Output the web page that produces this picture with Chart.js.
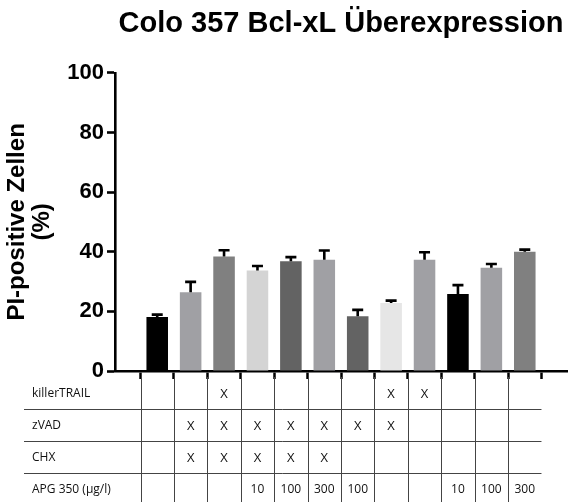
<!DOCTYPE html>
<html>
<head>
<meta charset="utf-8">
<script src="https://cdn.jsdelivr.net/npm/chart.js@4/dist/chart.umd.min.js"></script>
<style>
html,body{margin:0;padding:0;background:#fff;}
canvas{display:block;}
</style>
</head>
<body>
<canvas id="c" width="569" height="502"></canvas>
<script>
const chartTitle = 'Colo 357 Bcl-xL Überexpression';
const yTitle = ['PI-positive Zellen', '(%)'];
const yTicks = [0, 20, 40, 60, 80, 100];
const means = [18.1, 26.4, 38.4, 33.7, 36.8, 37.3, 18.4, 22.8, 37.3, 25.8, 34.6, 40.0];
const sems  = [0.8, 3.5, 2.1, 1.5, 1.4, 3.1, 2.1, 0.8, 2.5, 3.0, 1.3, 0.7];
const barColors = ['#000000','#a0a0a4','#808080','#d4d4d4','#636363','#a0a0a4','#636363','#e6e6e6','#a0a0a4','#000000','#a0a0a4','#808080'];
const rowLabels = ['killerTRAIL', 'zVAD', 'CHX', 'APG 350 (µg/l)'];
const killerTRAIL = ['', '', 'X', '', '', '', '', 'X', 'X', '', '', ''];
const zVAD        = ['', 'X', 'X', 'X', 'X', 'X', 'X', 'X', '', '', '', ''];
const CHX         = ['', 'X', 'X', 'X', 'X', 'X', '', '', '', '', '', ''];
const APG         = ['', '', '', '10', '100', '300', '100', '', '', '10', '100', '300'];
const tableRows = [killerTRAIL, zVAD, CHX, APG];

const points = means.map((v, i) => ({x: i, y: v}));

const errorBars = {
  id: 'errorBars',
  afterDatasetsDraw(chart) {
    const xs = chart.scales.x, ys = chart.scales.y, ctx = chart.ctx;
    ctx.save();
    ctx.strokeStyle = '#000';
    ctx.lineWidth = 2.6;
    ctx.lineCap = 'butt';
    means.forEach((m, i) => {
      const x = xs.getPixelForValue(i);
      const y0 = ys.getPixelForValue(m);
      const y1 = ys.getPixelForValue(m + sems[i]);
      ctx.beginPath();
      ctx.moveTo(x, y0);
      ctx.lineTo(x, y1);
      ctx.moveTo(x - 5.5, y1);
      ctx.lineTo(x + 5.5, y1);
      ctx.stroke();
    });
    ctx.restore();
  }
};

const table = {
  id: 'table',
  afterDraw(chart) {
    const xs = chart.scales.x, ctx = chart.ctx;
    const top = chart.chartArea.bottom + 6;
    const rowH = 32;
    ctx.save();
    ctx.strokeStyle = '#444';
    ctx.lineWidth = 1;
    for (let i = 0; i < means.length; i++) {
      const x = Math.round(xs.getPixelForValue(i - 0.5)) + 0.5;
      ctx.beginPath();
      ctx.moveTo(x, top);
      ctx.lineTo(x, 502);
      ctx.stroke();
    }
    const lineRight = xs.getPixelForValue(11.5);
    for (let r = 1; r < rowLabels.length; r++) {
      const y = Math.round(top + rowH * r) + 0.5;
      ctx.beginPath();
      ctx.moveTo(24, y);
      ctx.lineTo(lineRight, y);
      ctx.stroke();
    }
    ctx.fillStyle = '#111';
    ctx.textBaseline = 'middle';
    const labFont = '12px "Open Sans"';
    rowLabels.forEach((lab, r) => {
      const cy = top + rowH * r + rowH / 2 + 1;
      ctx.font = labFont;
      ctx.textAlign = 'left';
      ctx.fillText(lab, 32, cy);
      ctx.textAlign = 'center';
      tableRows[r].forEach((t, i) => {
        if (t) {
          ctx.font = t === 'X' ? '13px "Open Sans"' : labFont;
          ctx.fillText(t, xs.getPixelForValue(i), cy);
        }
      });
    });
    ctx.restore();
  }
};

new Chart(document.getElementById('c'), {
  type: 'bar',
  data: {
    datasets: [{
      data: points,
      backgroundColor: barColors,
      borderWidth: 0,
      barPercentage: 0.645,
      categoryPercentage: 1.0
    }]
  },
  options: {
    responsive: false,
    animation: false,
    layout: {padding: {left: 0, right: 2, top: 0, bottom: 0}},
    plugins: {
      legend: {display: false},
      tooltip: {enabled: false},
      title: {
        display: true,
        fullSize: false,
        text: chartTitle,
        color: '#000',
        font: {family: '"Liberation Sans", Arial, sans-serif', size: 29, weight: 'bold'},
        padding: {top: 7, bottom: 31},
        align: 'center'
      }
    },
    scales: {
      x: {
        type: 'linear',
        min: -0.7,
        max: 11.7,
        afterBuildTicks(scale) { scale.ticks = means.map((_, i) => ({value: i})); },
        afterFit(scale) { scale.height = 131; },
        ticks: {callback: () => ''},
        grid: {drawOnChartArea: false, tickLength: 8, tickWidth: 2.5, tickColor: '#000'},
        border: {color: '#000', width: 2.6}
      },
      y: {
        min: 0,
        max: 100,
        afterBuildTicks(scale) { scale.ticks = yTicks.map(v => ({value: v})); },
        afterFit(scale) { scale.width = 115; },
        ticks: {
          color: '#000',
          padding: 3,
          font: {family: '"Liberation Sans", Arial, sans-serif', size: 22, weight: 'bold'}
        },
        grid: {drawOnChartArea: false, tickLength: 8, tickWidth: 2.6, tickColor: '#000'},
        border: {color: '#000', width: 2.6},
        title: {
          display: true,
          text: yTitle,
          color: '#000',
          padding: {top: 4.5, bottom: 0},
          font: {family: '"Liberation Sans", Arial, sans-serif', size: 24, weight: 'bold', lineHeight: 1.05}
        }
      }
    }
  },
  plugins: [errorBars, table]
});
</script>
</body>
</html>
